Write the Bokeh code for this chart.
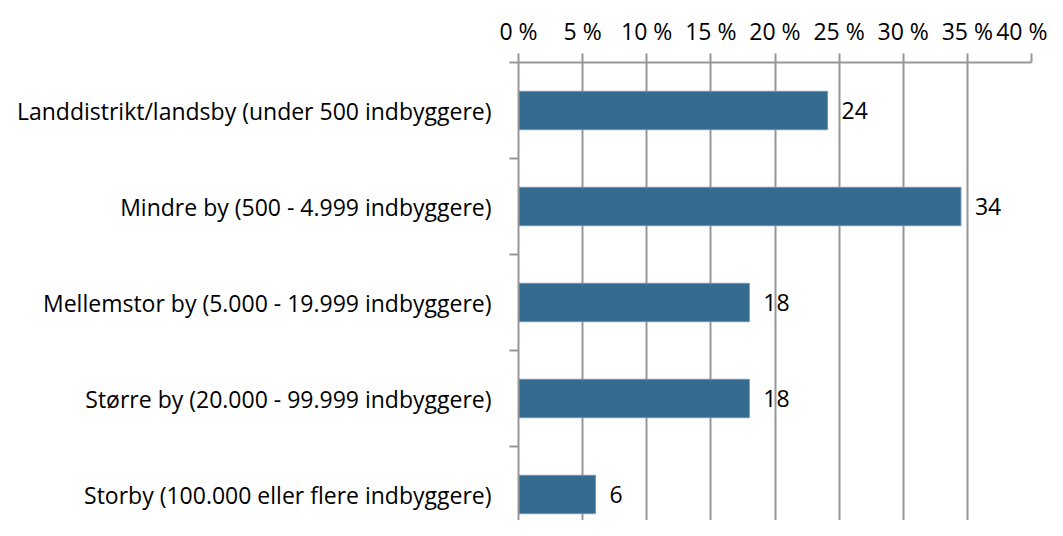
from bokeh.plotting import figure
from bokeh.models import Range1d, FixedTicker, ColumnDataSource
from bokeh.embed import file_html
from bokeh.resources import INLINE
from bokeh.core.properties import value

categories = [
    "Landdistrikt/landsby (under 500 indbyggere)",
    "Mindre by (500 - 4.999 indbyggere)",
    "Mellemstor by (5.000 - 19.999 indbyggere)",
    "Større by (20.000 - 99.999 indbyggere)",
    "Storby (100.000 eller flere indbyggere)",
]
values = [24.1, 34.5, 18.0, 18.0, 6.0]
value_labels = ["24", "34", "18", "18", "6"]
x_ticks = [0, 5, 10, 15, 20, 25, 30, 35, 40]
x_tick_labels = ["0 %", "5 %", "10 %", "15 %", "20 %", "25 %", "30 %", "35 %", "40 %"]

FONT = "Open Sans"
FS = "23px"
GRID = "#979797"
BAR = "#346b8f"

pos = list(range(len(categories)))
src = ColumnDataSource(dict(y=pos, v=values, lab=value_labels))

W, H = 1047, 520
TOP, LEFT, RIGHT = 62, 518, 16
band_px = 96
units = (H - TOP) / band_px

p = figure(width=W, height=H, output_backend="svg", toolbar_location=None,
           x_range=Range1d(0, 40), y_range=Range1d(start=-0.5 + units, end=-0.5),
           x_axis_location="above",
           min_border_left=LEFT, min_border_right=RIGHT, min_border_top=TOP, min_border_bottom=0)
p.outline_line_color = None
p.background_fill_color = "white"

p.hbar(y="y", right="v", left=0, height=0.4, source=src,
       fill_color=BAR, line_color="#6f95b3", line_width=1)
p.text(x="v", y="y", text="lab", source=src, x_offset=14,
       text_align="left", text_baseline="middle",
       text_font=value(FONT), text_font_size=FS, text_color="black")

xa = p.xaxis[0]
xa.ticker = FixedTicker(ticks=x_ticks)
xa.major_label_overrides = {t: l for t, l in zip(x_ticks, x_tick_labels)}
xa.major_tick_out = 9
xa.major_tick_in = 0
xa.minor_tick_out = 0
xa.minor_tick_in = 0
xa.axis_line_color = GRID
xa.axis_line_width = 2
xa.major_tick_line_color = GRID
xa.major_tick_line_width = 2
xa.major_label_standoff = 7
xa.major_label_text_font = FONT
xa.major_label_text_font_size = FS
xa.major_label_text_color = "black"

ya = p.yaxis[0]
ya.ticker = FixedTicker(ticks=pos, minor_ticks=[-0.5, 0.5, 1.5, 2.5, 3.5])
ya.major_label_overrides = {i: c for i, c in zip(pos, categories)}
ya.major_tick_out = 0
ya.major_tick_in = 0
ya.minor_tick_out = 9
ya.minor_tick_in = 0
ya.minor_tick_line_color = GRID
ya.minor_tick_line_width = 2
ya.axis_line_color = GRID
ya.axis_line_width = 2
ya.major_label_standoff = 18
ya.major_label_text_font = FONT
ya.major_label_text_font_size = FS
ya.major_label_text_color = "black"

p.xgrid.ticker = FixedTicker(ticks=x_ticks)
p.xgrid.grid_line_color = GRID
p.xgrid.grid_line_width = 2
p.ygrid.grid_line_color = None

open("out.html", "w").write(file_html(p, INLINE))
